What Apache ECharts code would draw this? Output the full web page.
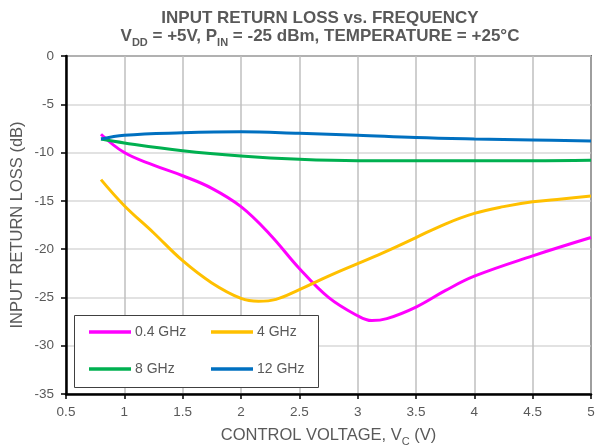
<!DOCTYPE html>
<html>
<head>
<meta charset="utf-8">
<script src="https://cdn.jsdelivr.net/npm/echarts@6/dist/echarts.min.js"></script>
<style>html,body{margin:0;padding:0;background:#fff}#c{width:599px;height:445px}</style>
</head>
<body>
<div id="c"></div>
<script>
const seriesNames = ['0.4 GHz', '4 GHz', '8 GHz', '12 GHz'];
const seriesColors = ['#FF00FF', '#FFC000', '#00B050', '#0070C0'];
const xTicks = [0.5, 1, 1.5, 2, 2.5, 3, 3.5, 4, 4.5, 5];
const yTicks = [0, -5, -10, -15, -20, -25, -30, -35];

const v04x = [0.8, 1.0, 1.25, 1.5, 1.75, 2.0, 2.25, 2.5, 2.75, 3.0, 3.12, 3.25, 3.5, 3.75, 4.0, 4.5, 5.0];
const v04y = [-8.1, -10.0, -11.3, -12.4, -13.7, -15.6, -18.5, -22.0, -25.0, -26.9, -27.4, -27.2, -26.0, -24.3, -22.8, -20.7, -18.8];

const v4x = [0.8, 1.0, 1.25, 1.5, 1.75, 2.0, 2.15, 2.3, 2.5, 2.75, 3.0, 3.25, 3.5, 3.75, 4.0, 4.25, 4.5, 4.75, 5.0];
const v4y = [-12.8, -15.5, -18.3, -21.2, -23.5, -25.1, -25.4, -25.2, -24.2, -22.8, -21.5, -20.2, -18.8, -17.4, -16.3, -15.6, -15.1, -14.8, -14.5];

const v8x = [0.8, 1.0, 1.5, 2.0, 2.5, 3.0, 3.5, 4.0, 4.5, 5.0];
const v8y = [-8.6, -9.0, -9.8, -10.35, -10.7, -10.85, -10.85, -10.85, -10.85, -10.8];

const v12x = [0.8, 1.0, 1.5, 2.0, 2.5, 3.0, 3.5, 4.0, 4.5, 5.0];
const v12y = [-8.6, -8.2, -7.95, -7.85, -8.0, -8.2, -8.45, -8.6, -8.7, -8.8];

const xs = [v04x, v4x, v8x, v12x];
const ys = [v04y, v4y, v8y, v12y];

const FONT = '"Liberation Sans", Arial, sans-serif';
const chart = echarts.init(document.getElementById('c'), null, {renderer: 'canvas'});

const legendPos = [[89, 325], [211, 325], [89, 362], [211, 362]];

const option = {
  animation: false,
  backgroundColor: '#fff',
  title: {
    left: 315, top: 4, textAlign: 'center',
    text: '{b|INPUT RETURN LOSS vs. FREQUENCY}\n{b|V}{s|DD}{b| = +5V, P}{s|IN}{b| = -25 dBm, TEMPERATURE = +25°C}',
    textStyle: {
      rich: {
        b: {fontFamily: FONT, fontSize: 17, fontWeight: 'bold', color: '#595959', lineHeight: 18},
        s: {fontFamily: FONT, fontSize: 11, fontWeight: 'bold', color: '#595959', lineHeight: 11, verticalAlign: 'bottom', padding: [0, 0, -3, 0]}
      }
    }
  },
  grid: {left: 66, right: 8, top: 56, bottom: 51, show: true, borderColor: '#000', borderWidth: 1.5, containLabel: false, outerBoundsMode: 'none'},
  legend: seriesNames.map((n, i) => ({
    data: [n], left: legendPos[i][0], top: legendPos[i][1], z: 20,
    icon: 'rect', itemWidth: 42, itemHeight: 3.5, padding: 0, itemGap: 0,
    textStyle: {fontFamily: FONT, fontSize: 14, color: '#595959', padding: [0, 0, 0, -1]}
  })),
  graphic: [{
    type: 'rect', shape: {x: 74.5, y: 315.5, width: 244, height: 72},
    style: {fill: '#fff', stroke: '#404040', lineWidth: 1}, z: 4
  }],
  xAxis: {
    type: 'value', min: 0.5, max: 5, interval: 0.5,
    name: 'CONTROL VOLTAGE, V{s|C} (V)', nameLocation: 'middle', nameGap: 33,
    nameTextStyle: {fontFamily: FONT, fontSize: 16.5, color: '#595959',
      rich: {s: {fontFamily: FONT, fontSize: 11, color: '#595959', verticalAlign: 'bottom', lineHeight: 11, padding: [0, 0, -3, 0]}}},
    axisLine: {show: true, onZero: false, lineStyle: {color: '#000', width: 2.5}},
    axisTick: {show: true, inside: false, length: 5, lineStyle: {color: '#000', width: 1.5}},
    axisLabel: {fontFamily: FONT, fontSize: 13.5, color: '#595959', margin: 11},
    splitLine: {show: true, lineStyle: {color: '#BFBFBF', width: 1.5}}
  },
  yAxis: {
    type: 'value', min: -35, max: 0, interval: 5,
    name: 'INPUT RETURN LOSS (dB)', nameLocation: 'middle', nameGap: 40, nameMoveOverlap: false,
    nameTextStyle: {fontFamily: FONT, fontSize: 16.5, color: '#595959'},
    axisLine: {show: true, onZero: false, lineStyle: {color: '#000', width: 2.5}},
    axisTick: {show: true, inside: false, length: 5, lineStyle: {color: '#000', width: 1.5}},
    axisLabel: {fontFamily: FONT, fontSize: 13.5, color: '#595959', margin: 12},
    splitLine: {show: true, lineStyle: {color: '#D9D9D9', width: 1.5}}
  },
  series: seriesNames.map((n, i) => ({
    name: n, type: 'line', smooth: 0.4, showSymbol: false, symbol: 'none',
    color: seriesColors[i],
    lineStyle: {color: seriesColors[i], width: 3},
    data: xs[i].map((x, j) => [x, ys[i][j]]),
    z: 3
  }))
};
chart.setOption(option);
</script>
</body>
</html>
